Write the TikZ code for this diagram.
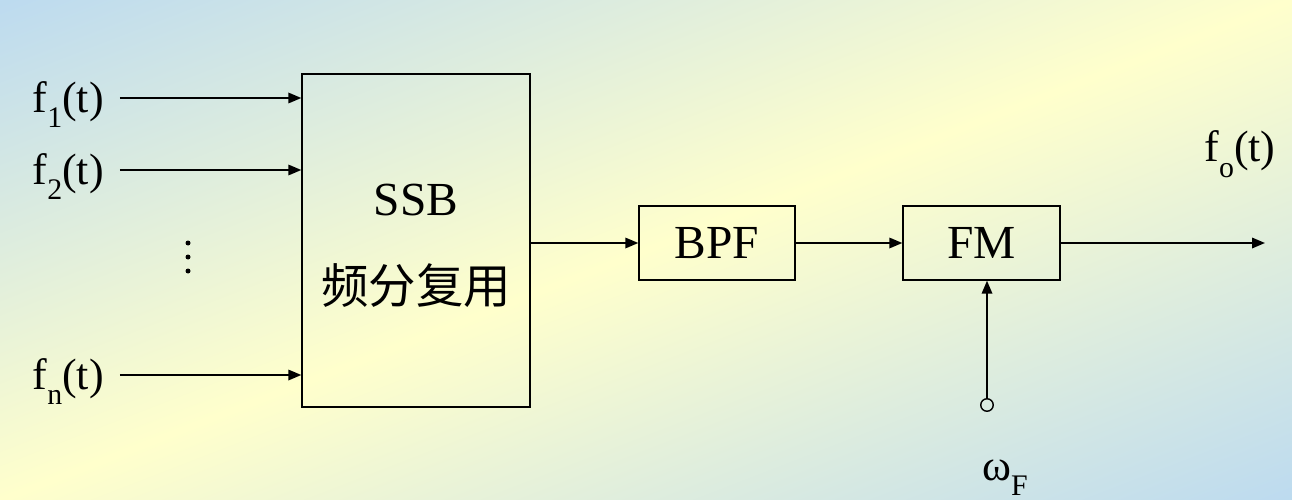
\documentclass[tikz,border=0pt]{standalone}
\usepackage{fontspec}
\setmainfont{Liberation Serif}
\newfontfamily\cjk{Noto Sans CJK SC}
\usetikzlibrary{arrows.meta,positioning}

\definecolor{bgblue}{RGB}{184,216,242}
\definecolor{bgyellow}{RGB}{255,255,204}
\pgfdeclareverticalshading{bgdiag}{100bp}{color(0bp)=(bgblue); color(12bp)=(bgblue); color(50bp)=(bgyellow); color(88bp)=(bgblue); color(100bp)=(bgblue)}
\newcommand\lowsub[1]{\raisebox{-0.36em}{\fontsize{17}{17}\selectfont #1}}

\begin{document}
\begin{tikzpicture}[x=0.02cm,y=-0.02cm,
    lbl/.style={font=\fontsize{25}{30}\selectfont, inner sep=0pt, text height=18pt, text depth=2pt},
    blk/.style={draw, line width=0.8pt, inner sep=0pt, font=\fontsize{27}{50}\selectfont},
    sig/.style={line width=1pt, -{Triangle[length=0.26cm,width=0.21cm]}}]
  % background, diagonal from corner to corner
  \useasboundingbox (0,0) rectangle (1292,500);
  \shade[transform canvas={xscale=2.584}, shading=bgdiag, shading angle=45] (0,0) rectangle (500,500);

  % blocks
  \node[blk, minimum width=4.56cm, minimum height=6.66cm, align=center] (ssb) at (416,240.5) {\rule{0pt}{24pt}SSB\\{\cjk 频分复用}};
  \node[blk, minimum width=3.12cm, minimum height=1.48cm] (bpf) at (717,243) {BPF};
  \node[blk, minimum width=3.14cm, minimum height=1.48cm] (fm) at (981.5,243) {FM};

  % inputs
  \node[lbl, anchor=east] (f1) at (104,98) {f\lowsub{1}(t)};
  \node[lbl, anchor=east] (f2) at (104,170) {f\lowsub{2}(t)};
  \node[lbl, anchor=east] (fn) at (104,375) {f\lowsub{n}(t)};
  \foreach \f in {f1,f2,fn} {
    \draw[sig] ([xshift=0.32cm]\f.east) -- (\f -| ssb.west);
  }
  \foreach \y in {243,257,271} {
    \fill (188,\y) circle (0.05cm);
  }

  % chain
  \draw[sig] (ssb.east |- bpf) -- (bpf);
  \draw[sig] (bpf) -- (fm);
  \coordinate (out) at (1265,243);
  \draw[sig] (fm) -- (out);
  \node[font=\fontsize{25}{30}\selectfont, inner sep=0pt, anchor=base] (fo) at (1240,162) {f\lowsub{o}(t)};

  % carrier
  \node[circle, draw, line width=0.8pt, minimum size=0.25cm, inner sep=0pt] (wf) at (987,405) {};
  \draw[sig] (wf) -- (wf |- fm.south);
  \node[font=\fontsize{25}{30}\selectfont, inner sep=0pt, anchor=base] (wflbl) at (1005,480) {ω\lowsub{F}};
\end{tikzpicture}
\end{document}
